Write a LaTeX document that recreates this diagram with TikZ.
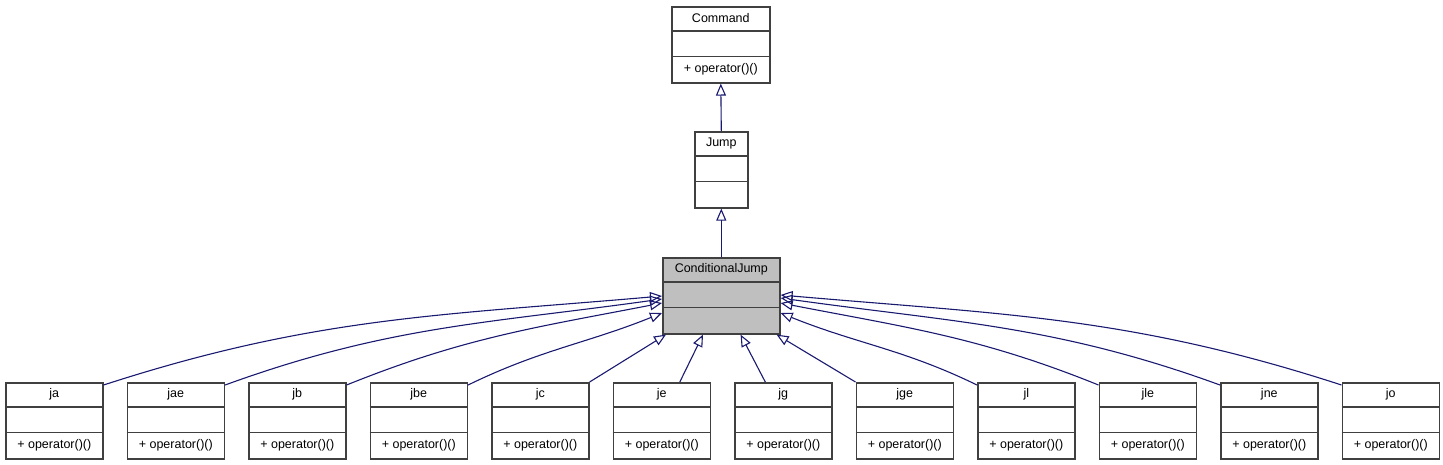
\documentclass[tikz,border=0pt]{standalone}
\usepackage{fontspec}
\setmainfont{Liberation Sans}
\usetikzlibrary{arrows.meta,calc}
\definecolor{edgeblue}{HTML}{191970}
\definecolor{boxgray}{HTML}{404040}
\definecolor{cjgray}{HTML}{BFBFBF}
\tikzset{>={Triangle[open,length=12pt,width=10pt]}}

% one class box: [fill]{name}{top left}{width}{title}{operations}
\newcommand{\umlbox}[6][white]{%
  \node[umlcls,fill=#1,minimum width=#4] (#2) at (#3) {};
  \draw[boxgray,line width=1.1pt] ([yshift=-25pt]#2.north west) -- ([yshift=-25pt]#2.north east)
    ([yshift=-50.5pt]#2.north west) -- ([yshift=-50.5pt]#2.north east);
  \node[umltext] (#2-name) at ([yshift=-12.5pt]#2.north) {#5};
  \node[umltext] (#2-ops) at ([yshift=-63.5pt]#2.north) {#6};
}

\begin{document}
\begin{tikzpicture}[x=1pt,y=-1pt,
    umlcls/.style={draw=boxgray,line width=1.6pt,anchor=north west,minimum height=76pt,inner sep=0},
    umltext/.style={font=\fontsize{12.5}{14}\selectfont,inner sep=0},
    inh/.style={edgeblue,line width=1.1pt,->}]
  \useasboundingbox (0,0) rectangle (1443,464);
  \umlbox{cmd}{671,6}{98pt}{Command}{+ operator()()}
  \umlbox{jump}{694,131}{53pt}{Jump}{}
  \umlbox[cjgray]{cj}{662,257}{117pt}{ConditionalJump}{}
  \foreach \n [count=\i from 0] in {ja,jae,jb,jbe,jc,je,jg,jge,jl,jle,jne,jo}
    \umlbox{\n}{5+121.5*\i,382}{97pt}{\n}{+ operator()()};

  \draw[inh] (jump.north) -- (cmd.south);
  \draw[inh] (cj.north) -- (jump.south);
  % curved ones, left and right
  \foreach \n/\dy/\o/\e in {ja/39/18/185,jae/42/20/188,jb/46/22/191,jbe/56/26/202}
    \draw[inh] ([yshift=-3pt]\n.north east) to[out=\o,in=\e] ([yshift=-\dy pt]cj.north west);
  \foreach \n/\dy/\o/\e in {jo/38/162/-5,jne/41/160/-8,jle/46/158/-11,jl/56/154/-22}
    \draw[inh] ([yshift=-3pt]\n.north west) to[out=\o,in=\e] ([yshift=-\dy pt]cj.north east);
  \draw[inh] (jc.north east) -- ([xshift=4pt]cj.south west);
  \draw[inh] ([xshift=18pt]je.north) -- ([xshift=41pt]cj.south west);
  \draw[inh] ([xshift=-18pt]jg.north) -- ([xshift=-40pt]cj.south east);
  \draw[inh] (jge.north west) -- ([xshift=-4pt]cj.south east);
\end{tikzpicture}
\end{document}
